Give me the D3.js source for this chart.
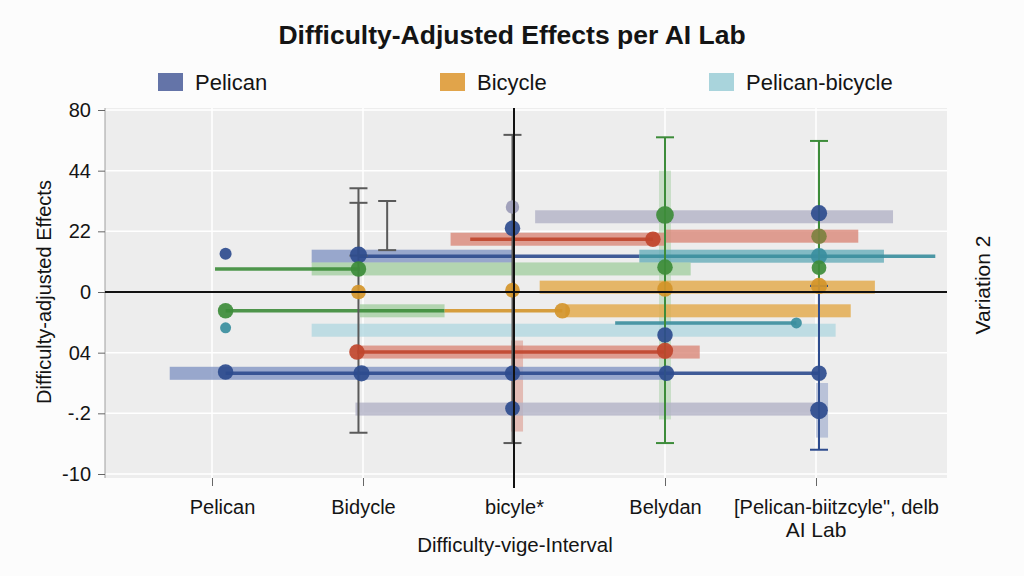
<!DOCTYPE html>
<html>
<head>
<meta charset="utf-8">
<script src="https://cdn.jsdelivr.net/npm/d3@7/dist/d3.min.js"></script>
<style>
  body { margin: 0; background: #fcfcfc; }
  text { font-family: "Liberation Sans", Arial, sans-serif; fill: #141414; }
</style>
</head>
<body>
<div id="chart"></div>
<script>
// ---- data ----
const xLabels = ["Pelican", "Bidycle", "bicyle*", "Belydan", "[Pelican-biitzcyle\", delb"];
const yTickVals = [3, 2, 1, 0, -1, -2, -3];
const yTickLabels = ["80", "44", "22", "0", "04", "-.2", "-10"];
const legendNames = ["Pelican", "Bicycle", "Pelican-bicycle"];

// wide interval bands: [group, lo, hi, effect]
const bands = [
  ["Gray", 2.14, 4.51, 1.24],
  ["Red", 3.0, 4.28, 0.92],
  ["Red", 1.58, 3.0, 0.87],
  ["Pelican", 0.66, 1.99, 0.59],
  ["Teal", 2.83, 4.45, 0.59],
  ["Green", 0.66, 3.17, 0.38],
  ["Bicycle", 2.17, 4.39, 0.08],
  ["Bicycle", 2.34, 4.23, -0.31],
  ["Green", 0.98, 1.54, -0.31],
  ["Pelican-bicycle", 0.66, 4.13, -0.63],
  ["Red", 0.98, 3.23, -0.99],
  ["Pelican", -0.28, 0.99, -1.34],
  ["Pelican", 0.99, 3.0, -1.34],
  ["Gray", 0.95, 4.03, -1.93]
];

// thin connecting lines: [group, lo, hi, effect]
const lines = [
  ["Red", 1.71, 2.92, 0.87],
  ["Pelican", 0.97, 2.83, 0.59],
  ["Teal", 2.83, 4.79, 0.59],
  ["Green", 0.02, 0.98, 0.38],
  ["Green", 0.09, 1.54, -0.31],
  ["Bicycle", 1.54, 2.32, -0.31],
  ["Teal", 2.67, 3.87, -0.51],
  ["Red", 0.96, 3.0, -0.99],
  ["Pelican", 0.09, 4.02, -1.34]
];

// vertical error bars: [group, pos, lo, hi]
const errorBars = [
  ["Dark", 0.97, -2.32, 1.71],
  ["Dark", 0.97, 0.6, 1.47],
  ["Dark", 1.16, 0.69, 1.5],
  ["Dark", 1.99, -2.49, 2.59],
  ["Green", 3.0, -2.49, 2.55],
  ["Green", 4.02, 0.1, 2.49],
  ["Pelican", 4.02, -2.6, 0.1]
];

// faint vertical bands: [group, pos, lo, hi]
const vBands = [
  ["Green", 3.0, -2.1, 2.0],
  ["Red", 2.02, -2.3, -0.8],
  ["Pelican", 4.04, -2.4, -1.5]
];

// estimates: [group, pos, effect, n]
const points = [
  ["Pelican", 0.09, 0.63, 1.2],
  ["Pelican", 0.97, 0.61, 2.4],
  ["Green", 0.97, 0.38, 2],
  ["Bicycle", 0.97, 0.0, 1.8],
  ["Green", 0.09, -0.31, 2],
  ["Teal", 0.09, -0.59, 1],
  ["Red", 0.96, -0.99, 2],
  ["Pelican", 0.09, -1.32, 2],
  ["Pelican", 0.99, -1.34, 2.2],
  ["Pelican", 1.99, -1.34, 2],
  ["Pelican", 3.01, -1.34, 2],
  ["Pelican", 4.02, -1.34, 2],
  ["Pelican", 1.99, -1.92, 1.8],
  ["Pelican", 4.02, -1.95, 2.6],
  ["Gray", 1.99, 1.4, 1.5],
  ["Pelican", 1.99, 1.05, 2],
  ["Red", 2.92, 0.87, 2],
  ["Green", 3.0, 1.27, 2.6],
  ["Pelican", 4.02, 1.30, 2.2],
  ["Olive", 4.02, 0.92, 2],
  ["Teal", 4.02, 0.59, 2.2],
  ["Green", 3.0, 0.41, 2],
  ["Green", 4.02, 0.40, 1.8],
  ["Bicycle", 1.99, 0.03, 1.8],
  ["Bicycle", 3.0, 0.05, 2],
  ["Bicycle", 4.02, 0.1, 2.2],
  ["Bicycle", 2.32, -0.31, 2],
  ["Pelican", 3.0, -0.71, 2],
  ["Red", 3.0, -0.97, 2.2],
  ["Teal", 3.87, -0.51, 1]
];

// ---- styles ----
const DARK = {Pelican: "#2e4c8e", Bicycle: "#d4952a", "Pelican-bicycle": "#7fbfcc", Teal: "#3a8e9e",
  Green: "#3d8c3a", Red: "#c0452c", Gray: "#9a9ab6", Olive: "#7d8140", Dark: "#5a5a5a"};
const LIGHT = {Pelican: "#8597c4", Bicycle: "#e3a94a", "Pelican-bicycle": "#b3d8e1", Teal: "#6aaebb",
  Green: "#a6cfa3", Red: "#da8a7b", Gray: "#b3b3c7", Olive: "#a8ab78", Dark: "#999"};
const LEGEND_COLORS = ["#6474a8", "#e1a44a", "#a9d4dc"];

const WIDTH = 1024, HEIGHT = 576;
const PLOT = {LEFT: 105, RIGHT: 947, TOP: 108, BOTTOM: 478};

const svg = d3.select("#chart").append("svg")
  .attr("width", WIDTH).attr("height", HEIGHT);

const x = d3.scaleLinear().domain([0, 4]).range([212, 816]);
const y = d3.scaleLinear().domain([-3, 3]).range([474, 110]);
const r = d3.scaleSqrt().domain([0, 3]).range([0, 9.5]);

// plot background + grid
svg.append("rect")
  .attr("x", PLOT.LEFT).attr("y", PLOT.TOP)
  .attr("width", PLOT.RIGHT - PLOT.LEFT).attr("height", PLOT.BOTTOM - PLOT.TOP)
  .attr("fill", "#ededed");

svg.append("g").selectAll("line").data(yTickVals).enter().append("line")
  .attr("x1", PLOT.LEFT).attr("x2", PLOT.RIGHT)
  .attr("y1", d => y(d)).attr("y2", d => y(d))
  .attr("stroke", "#fff").attr("stroke-width", 1.5);

svg.append("g").selectAll("line").data(d3.range(xLabels.length)).enter().append("line")
  .attr("x1", d => x(d)).attr("x2", d => x(d))
  .attr("y1", PLOT.TOP).attr("y2", PLOT.BOTTOM)
  .attr("stroke", "#fff").attr("stroke-width", 1.5);

// axes
const yAxis = svg.append("g")
  .attr("transform", `translate(${PLOT.LEFT},0)`)
  .call(d3.axisLeft(y).tickValues(yTickVals).tickFormat((d, i) => yTickLabels[i]).tickSize(7).tickPadding(7));
yAxis.select(".domain").attr("stroke", "#a0a0a0").attr("d", `M0,${PLOT.TOP}V${PLOT.BOTTOM}`);
yAxis.selectAll(".tick line").attr("stroke", "#666");
yAxis.selectAll("text").style("font-size", "20px");

const xAxis = svg.append("g")
  .attr("transform", `translate(0,${PLOT.BOTTOM})`)
  .call(d3.axisBottom(x).tickValues(d3.range(xLabels.length)).tickFormat(i => xLabels[i]).tickSize(8).tickPadding(14));
xAxis.select(".domain").remove();
xAxis.selectAll(".tick line").attr("stroke", "#666");
xAxis.selectAll("text").style("font-size", "20px");
xAxis.selectAll(".tick").filter(d => d === 0).select("text").attr("dx", 10);
xAxis.selectAll(".tick").filter(d => d === 4).select("text").attr("dx", 20);

// faint vertical bands
svg.append("g").selectAll("rect").data(vBands).enter().append("rect")
  .attr("x", d => x(d[1]) - 6).attr("width", 12)
  .attr("y", d => y(d[3])).attr("height", d => y(d[2]) - y(d[3]))
  .attr("fill", d => LIGHT[d[0]]).attr("opacity", 0.5);

// interval bands
svg.append("g").selectAll("rect").data(bands).enter().append("rect")
  .attr("x", d => x(d[1])).attr("width", d => x(d[2]) - x(d[1]))
  .attr("y", d => y(d[3]) - 6.5).attr("height", 13)
  .attr("fill", d => LIGHT[d[0]]).attr("opacity", 0.82);

// connecting lines
svg.append("g").selectAll("line").data(lines).enter().append("line")
  .attr("x1", d => x(d[1])).attr("x2", d => x(d[2]))
  .attr("y1", d => y(d[3])).attr("y2", d => y(d[3]))
  .attr("stroke", d => DARK[d[0]]).attr("stroke-width", 3.5).attr("opacity", 0.9);

// error bars with caps
const eb = svg.append("g").selectAll("g").data(errorBars).enter().append("g")
  .attr("stroke", d => DARK[d[0]]).attr("stroke-width", 2);
eb.append("line")
  .attr("x1", d => x(d[1])).attr("x2", d => x(d[1]))
  .attr("y1", d => y(d[3])).attr("y2", d => y(d[2]));
eb.append("line")
  .attr("x1", d => x(d[1]) - 9).attr("x2", d => x(d[1]) + 9)
  .attr("y1", d => y(d[3])).attr("y2", d => y(d[3]));
eb.append("line")
  .attr("x1", d => x(d[1]) - 9).attr("x2", d => x(d[1]) + 9)
  .attr("y1", d => y(d[2])).attr("y2", d => y(d[2]));

// points
svg.append("g").selectAll("circle").data(points).enter().append("circle")
  .attr("cx", d => x(d[1])).attr("cy", d => y(d[2]))
  .attr("r", d => r(d[3]))
  .attr("fill", d => DARK[d[0]]).attr("opacity", 0.92);

// reference lines
svg.append("line")
  .attr("x1", PLOT.LEFT).attr("x2", PLOT.RIGHT)
  .attr("y1", y(0)).attr("y2", y(0))
  .attr("stroke", "#111").attr("stroke-width", 2);
svg.append("line")
  .attr("x1", x(2)).attr("x2", x(2))
  .attr("y1", PLOT.TOP).attr("y2", PLOT.BOTTOM + 10)
  .attr("stroke", "#111").attr("stroke-width", 2);

// title
svg.append("text")
  .attr("x", 512).attr("y", 44)
  .attr("text-anchor", "middle")
  .style("font-size", "26.5px").style("font-weight", "bold")
  .text("Difficulty-Adjusted Effects per AI Lab");

// legend
const legendX = [158, 440, 709];
const lg = svg.append("g").selectAll("g").data(legendNames).enter().append("g")
  .attr("transform", (d, i) => `translate(${legendX[i]},73)`);
lg.append("rect").attr("width", 25).attr("height", 18)
  .attr("fill", (d, i) => LEGEND_COLORS[i]);
lg.append("text").attr("x", 37).attr("y", 17)
  .style("font-size", "22px").text(d => d);

// axis titles
svg.append("text")
  .attr("transform", "translate(51,292) rotate(-90)")
  .attr("text-anchor", "middle")
  .style("font-size", "20px")
  .text("Difficulty-adjusted Effects");

svg.append("text")
  .attr("x", 515).attr("y", 552)
  .attr("text-anchor", "middle")
  .style("font-size", "20.5px")
  .text("Difficulty-vige-Interval");

svg.append("text")
  .attr("x", 816).attr("y", 537)
  .attr("text-anchor", "middle")
  .style("font-size", "21px")
  .text("AI Lab");

svg.append("text")
  .attr("transform", "translate(990,285) rotate(-90)")
  .attr("text-anchor", "middle")
  .style("font-size", "21px")
  .text("Variation 2");
</script>
</body>
</html>
